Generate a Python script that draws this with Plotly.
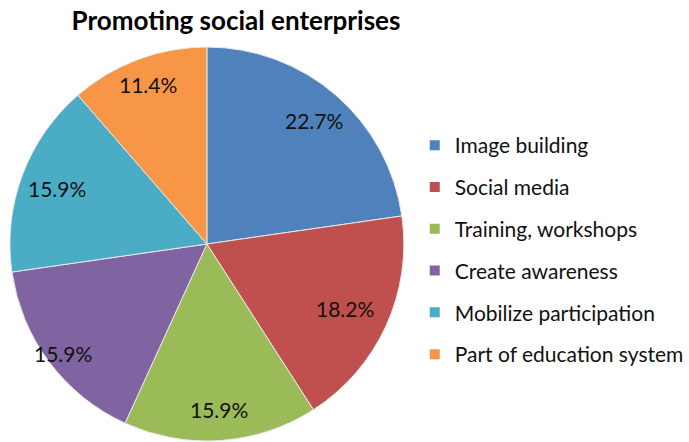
import math
import plotly.graph_objects as go

# Survey responses: ways of promoting social enterprises
categories = ["Image building", "Social media", "Training, workshops",
              "Create awareness", "Mobilize participation", "Part of education system"]
counts = [10, 8, 7, 7, 7, 5]
colors = ["#4F81BD", "#C0504D", "#9BBB59", "#8064A2", "#4BACC6", "#F79646"]

FONT = "Lato"
W, H = 689, 442
# pie placement in pixels
PX0, PX1, PY0 = 10, 408, 46
R = (PX1 - PX0) / 2
CX, CY = (PX0 + PX1) / 2, PY0 + R
# how far out (fraction of radius) each percentage label sits
label_radius = [0.83, 0.77, 0.83, 0.91, 0.81, 0.86]

fig = go.Figure()
fig.add_trace(go.Pie(
    labels=categories,
    values=counts,
    sort=False,
    direction="clockwise",
    rotation=0,
    marker=dict(colors=colors, line=dict(color="#e8e8e8", width=1)),
    textinfo="none",
    domain=dict(x=[PX0 / W, PX1 / W], y=[0, 1 - PY0 / H]),
    showlegend=False,
    hoverinfo="label+percent",
))

# Percentage labels placed at the middle angle of each slice
total = sum(counts)
cum = 0
for v, rf in zip(counts, label_radius):
    mid = (cum + v / 2) / total * 2 * math.pi
    cum += v
    px = CX + rf * R * math.sin(mid)
    py = CY - rf * R * math.cos(mid)
    fig.add_annotation(
        x=px / W, y=1 - py / H, xref="paper", yref="paper",
        text=f"{v / total * 100:.1f}%", showarrow=False,
        xanchor="center", yanchor="middle",
        font=dict(family=FONT, size=21, color="#111111"),
    )

# Legend entries: one square marker per category, each in its own group for spacing
for name, col in zip(categories, colors):
    fig.add_trace(go.Scatter(
        x=[None], y=[None], mode="markers", name=name,
        marker=dict(symbol="square", size=10, color=col),
        legendgroup=name, showlegend=True,
    ))

fig.update_layout(
    width=W, height=H,
    margin=dict(l=0, r=0, t=0, b=0),
    paper_bgcolor="white", plot_bgcolor="white",
    title=dict(text="<b>Promoting social enterprises</b>",
               font=dict(family=FONT, size=26, color="black"),
               x=236 / W, xanchor="center", y=1 - 21 / H, yanchor="middle"),
    xaxis=dict(visible=False), yaxis=dict(visible=False),
    legend=dict(x=419 / W, xanchor="left", y=1 - 125 / H, yanchor="top",
                font=dict(family=FONT, size=21, color="#111111"),
                tracegroupgap=11.5, itemwidth=30, bgcolor="rgba(0,0,0,0)"),
)

fig.write_html("out.html")
